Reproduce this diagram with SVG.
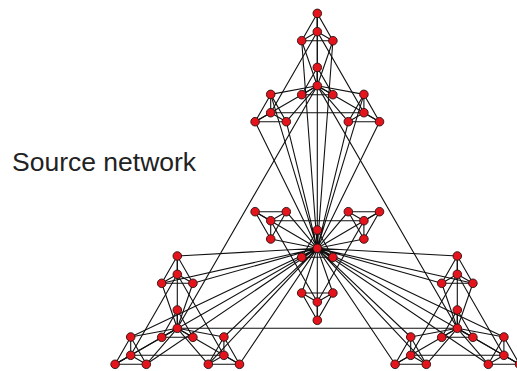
<svg xmlns="http://www.w3.org/2000/svg" width="517" height="371" viewBox="0 0 517 371">
<style>
.e{fill:none;stroke:#111;stroke-width:1.1}
.n{fill:#e3141c;stroke:#2a1010;stroke-width:0.9}
.t{font-family:"Liberation Sans",Arial,sans-serif;font-size:26.5px;fill:#222}
</style>
<rect width="517" height="371" fill="#fff"/>
<text class="t" x="12" y="170.5">Source network</text>
<g id="connectors" class="e">
<!-- K4 modules -->
<path d="M317.3,67.4 L301.7,94.7 L332.9,94.7 Z M317.3,85.7 L317.3,67.4 M317.3,85.7 L301.7,94.7 M317.3,85.7 L332.9,94.7"/>
<path d="M317.3,13.4 L301.7,40.7 L332.9,40.7 Z M317.3,31.7 L317.3,13.4 M317.3,31.7 L301.7,40.7 M317.3,31.7 L332.9,40.7"/>
<path d="M270.7,94.4 L255.1,121.7 L286.3,121.7 Z M270.7,112.7 L270.7,94.4 M270.7,112.7 L255.1,121.7 M270.7,112.7 L286.3,121.7"/>
<path d="M363.9,94.4 L348.3,121.7 L379.5,121.7 Z M363.9,112.7 L363.9,94.4 M363.9,112.7 L348.3,121.7 M363.9,112.7 L379.5,121.7"/>
<path d="M177.3,310 L161.7,337.3 L192.9,337.3 Z M177.3,328.3 L177.3,310 M177.3,328.3 L161.7,337.3 M177.3,328.3 L192.9,337.3"/>
<path d="M177.3,256 L161.7,283.3 L192.9,283.3 Z M177.3,274.3 L177.3,256 M177.3,274.3 L161.7,283.3 M177.3,274.3 L192.9,283.3"/>
<path d="M130.7,337 L115.1,364.3 L146.3,364.3 Z M130.7,355.3 L130.7,337 M130.7,355.3 L115.1,364.3 M130.7,355.3 L146.3,364.3"/>
<path d="M223.9,337 L208.3,364.3 L239.5,364.3 Z M223.9,355.3 L223.9,337 M223.9,355.3 L208.3,364.3 M223.9,355.3 L239.5,364.3"/>
<path d="M457.3,310 L441.7,337.3 L472.9,337.3 Z M457.3,328.3 L457.3,310 M457.3,328.3 L441.7,337.3 M457.3,328.3 L472.9,337.3"/>
<path d="M457.3,256 L441.7,283.3 L472.9,283.3 Z M457.3,274.3 L457.3,256 M457.3,274.3 L441.7,283.3 M457.3,274.3 L472.9,283.3"/>
<path d="M410.7,337 L395.1,364.3 L426.3,364.3 Z M410.7,355.3 L410.7,337 M410.7,355.3 L395.1,364.3 M410.7,355.3 L426.3,364.3"/>
<path d="M503.9,337 L488.3,364.3 L519.5,364.3 Z M503.9,355.3 L503.9,337 M503.9,355.3 L488.3,364.3 M503.9,355.3 L519.5,364.3"/>
<path d="M317.3,230 L301.7,257.3 L332.9,257.3 Z M317.3,248.3 L317.3,230 M317.3,248.3 L301.7,257.3 M317.3,248.3 L332.9,257.3"/>
<path d="M317.3,320.3 L301.7,293 L332.9,293 Z M317.3,302 L317.3,320.3 M317.3,302 L301.7,293 M317.3,302 L332.9,293"/>
<path d="M270.7,239 L255.1,211.7 L286.3,211.7 Z M270.7,220.7 L270.7,239 M270.7,220.7 L255.1,211.7 M270.7,220.7 L286.3,211.7"/>
<path d="M363.9,239 L348.3,211.7 L379.5,211.7 Z M363.9,220.7 L363.9,239 M363.9,220.7 L348.3,211.7 M363.9,220.7 L379.5,211.7"/>
<!-- level-1 hub stars -->
<path d="M317.3,85.7 L317.3,13.4 M317.3,85.7 L301.7,40.7 M317.3,85.7 L332.9,40.7 M317.3,85.7 L270.7,94.4 M317.3,85.7 L255.1,121.7 M317.3,85.7 L286.3,121.7 M317.3,85.7 L363.9,94.4 M317.3,85.7 L348.3,121.7 M317.3,85.7 L379.5,121.7"/>
<path d="M177.3,328.3 L177.3,256 M177.3,328.3 L161.7,283.3 M177.3,328.3 L192.9,283.3 M177.3,328.3 L130.7,337 M177.3,328.3 L115.1,364.3 M177.3,328.3 L146.3,364.3 M177.3,328.3 L223.9,337 M177.3,328.3 L208.3,364.3 M177.3,328.3 L239.5,364.3"/>
<path d="M457.3,328.3 L457.3,256 M457.3,328.3 L441.7,283.3 M457.3,328.3 L472.9,283.3 M457.3,328.3 L410.7,337 M457.3,328.3 L395.1,364.3 M457.3,328.3 L426.3,364.3 M457.3,328.3 L503.9,337 M457.3,328.3 L488.3,364.3 M457.3,328.3 L519.5,364.3"/>
<path d="M317.3,248.3 L317.3,320.3 M317.3,248.3 L301.7,293 M317.3,248.3 L332.9,293 M317.3,248.3 L270.7,239 M317.3,248.3 L255.1,211.7 M317.3,248.3 L286.3,211.7 M317.3,248.3 L363.9,239 M317.3,248.3 L348.3,211.7 M317.3,248.3 L379.5,211.7"/>
<!-- level-1 replica hub triangles -->
<path d="M317.3,31.7 L270.7,112.7 L363.9,112.7 Z"/>
<path d="M177.3,274.3 L130.7,355.3 L223.9,355.3 Z"/>
<path d="M457.3,274.3 L410.7,355.3 L503.9,355.3 Z"/>
<path d="M317.3,302 L270.7,220.7 L363.9,220.7 Z"/>
<!-- level-2 global hub star -->
<path d="M317.3,248.3 L317.3,13.4 M317.3,248.3 L301.7,40.7 M317.3,248.3 L332.9,40.7 M317.3,248.3 L270.7,94.4 M317.3,248.3 L255.1,121.7 M317.3,248.3 L286.3,121.7 M317.3,248.3 L363.9,94.4 M317.3,248.3 L348.3,121.7 M317.3,248.3 L379.5,121.7"/>
<path d="M317.3,248.3 L177.3,256 M317.3,248.3 L161.7,283.3 M317.3,248.3 L192.9,283.3 M317.3,248.3 L130.7,337 M317.3,248.3 L115.1,364.3 M317.3,248.3 L146.3,364.3 M317.3,248.3 L223.9,337 M317.3,248.3 L208.3,364.3 M317.3,248.3 L239.5,364.3"/>
<path d="M317.3,248.3 L457.3,256 M317.3,248.3 L441.7,283.3 M317.3,248.3 L472.9,283.3 M317.3,248.3 L410.7,337 M317.3,248.3 L395.1,364.3 M317.3,248.3 L426.3,364.3 M317.3,248.3 L503.9,337 M317.3,248.3 L488.3,364.3 M317.3,248.3 L519.5,364.3"/>
<!-- level-2 replica hub triangle -->
<path d="M317.3,85.7 L177.3,328.3 L457.3,328.3 Z"/>
</g>
<g id="nodes" class="n">
<g id="T0h"><circle cx="317.3" cy="85.7" r="4.3"/></g>
<g id="T0a"><circle cx="317.3" cy="67.4" r="4.3"/></g>
<g id="T0l"><circle cx="301.7" cy="94.7" r="4.3"/></g>
<g id="T0r"><circle cx="332.9" cy="94.7" r="4.3"/></g>
<g id="T1h"><circle cx="317.3" cy="31.7" r="4.3"/></g>
<g id="T1a"><circle cx="317.3" cy="13.4" r="4.3"/></g>
<g id="T1l"><circle cx="301.7" cy="40.7" r="4.3"/></g>
<g id="T1r"><circle cx="332.9" cy="40.7" r="4.3"/></g>
<g id="T2h"><circle cx="270.7" cy="112.7" r="4.3"/></g>
<g id="T2a"><circle cx="270.7" cy="94.4" r="4.3"/></g>
<g id="T2l"><circle cx="255.1" cy="121.7" r="4.3"/></g>
<g id="T2r"><circle cx="286.3" cy="121.7" r="4.3"/></g>
<g id="T3h"><circle cx="363.9" cy="112.7" r="4.3"/></g>
<g id="T3a"><circle cx="363.9" cy="94.4" r="4.3"/></g>
<g id="T3l"><circle cx="348.3" cy="121.7" r="4.3"/></g>
<g id="T3r"><circle cx="379.5" cy="121.7" r="4.3"/></g>
<g id="L0h"><circle cx="177.3" cy="328.3" r="4.3"/></g>
<g id="L0a"><circle cx="177.3" cy="310" r="4.3"/></g>
<g id="L0l"><circle cx="161.7" cy="337.3" r="4.3"/></g>
<g id="L0r"><circle cx="192.9" cy="337.3" r="4.3"/></g>
<g id="L1h"><circle cx="177.3" cy="274.3" r="4.3"/></g>
<g id="L1a"><circle cx="177.3" cy="256" r="4.3"/></g>
<g id="L1l"><circle cx="161.7" cy="283.3" r="4.3"/></g>
<g id="L1r"><circle cx="192.9" cy="283.3" r="4.3"/></g>
<g id="L2h"><circle cx="130.7" cy="355.3" r="4.3"/></g>
<g id="L2a"><circle cx="130.7" cy="337" r="4.3"/></g>
<g id="L2l"><circle cx="115.1" cy="364.3" r="4.3"/></g>
<g id="L2r"><circle cx="146.3" cy="364.3" r="4.3"/></g>
<g id="L3h"><circle cx="223.9" cy="355.3" r="4.3"/></g>
<g id="L3a"><circle cx="223.9" cy="337" r="4.3"/></g>
<g id="L3l"><circle cx="208.3" cy="364.3" r="4.3"/></g>
<g id="L3r"><circle cx="239.5" cy="364.3" r="4.3"/></g>
<g id="R0h"><circle cx="457.3" cy="328.3" r="4.3"/></g>
<g id="R0a"><circle cx="457.3" cy="310" r="4.3"/></g>
<g id="R0l"><circle cx="441.7" cy="337.3" r="4.3"/></g>
<g id="R0r"><circle cx="472.9" cy="337.3" r="4.3"/></g>
<g id="R1h"><circle cx="457.3" cy="274.3" r="4.3"/></g>
<g id="R1a"><circle cx="457.3" cy="256" r="4.3"/></g>
<g id="R1l"><circle cx="441.7" cy="283.3" r="4.3"/></g>
<g id="R1r"><circle cx="472.9" cy="283.3" r="4.3"/></g>
<g id="R2h"><circle cx="410.7" cy="355.3" r="4.3"/></g>
<g id="R2a"><circle cx="410.7" cy="337" r="4.3"/></g>
<g id="R2l"><circle cx="395.1" cy="364.3" r="4.3"/></g>
<g id="R2r"><circle cx="426.3" cy="364.3" r="4.3"/></g>
<g id="R3h"><circle cx="503.9" cy="355.3" r="4.3"/></g>
<g id="R3a"><circle cx="503.9" cy="337" r="4.3"/></g>
<g id="R3l"><circle cx="488.3" cy="364.3" r="4.3"/></g>
<g id="R3r"><circle cx="519.5" cy="364.3" r="4.3"/></g>
<g id="C0h"><circle cx="317.3" cy="248.3" r="4.3"/></g>
<g id="C0a"><circle cx="317.3" cy="230" r="4.3"/></g>
<g id="C0l"><circle cx="301.7" cy="257.3" r="4.3"/></g>
<g id="C0r"><circle cx="332.9" cy="257.3" r="4.3"/></g>
<g id="C1h"><circle cx="317.3" cy="302" r="4.3"/></g>
<g id="C1a"><circle cx="317.3" cy="320.3" r="4.3"/></g>
<g id="C1l"><circle cx="301.7" cy="293" r="4.3"/></g>
<g id="C1r"><circle cx="332.9" cy="293" r="4.3"/></g>
<g id="C2h"><circle cx="270.7" cy="220.7" r="4.3"/></g>
<g id="C2a"><circle cx="270.7" cy="239" r="4.3"/></g>
<g id="C2l"><circle cx="255.1" cy="211.7" r="4.3"/></g>
<g id="C2r"><circle cx="286.3" cy="211.7" r="4.3"/></g>
<g id="C3h"><circle cx="363.9" cy="220.7" r="4.3"/></g>
<g id="C3a"><circle cx="363.9" cy="239" r="4.3"/></g>
<g id="C3l"><circle cx="348.3" cy="211.7" r="4.3"/></g>
<g id="C3r"><circle cx="379.5" cy="211.7" r="4.3"/></g>
</g>
</svg>
